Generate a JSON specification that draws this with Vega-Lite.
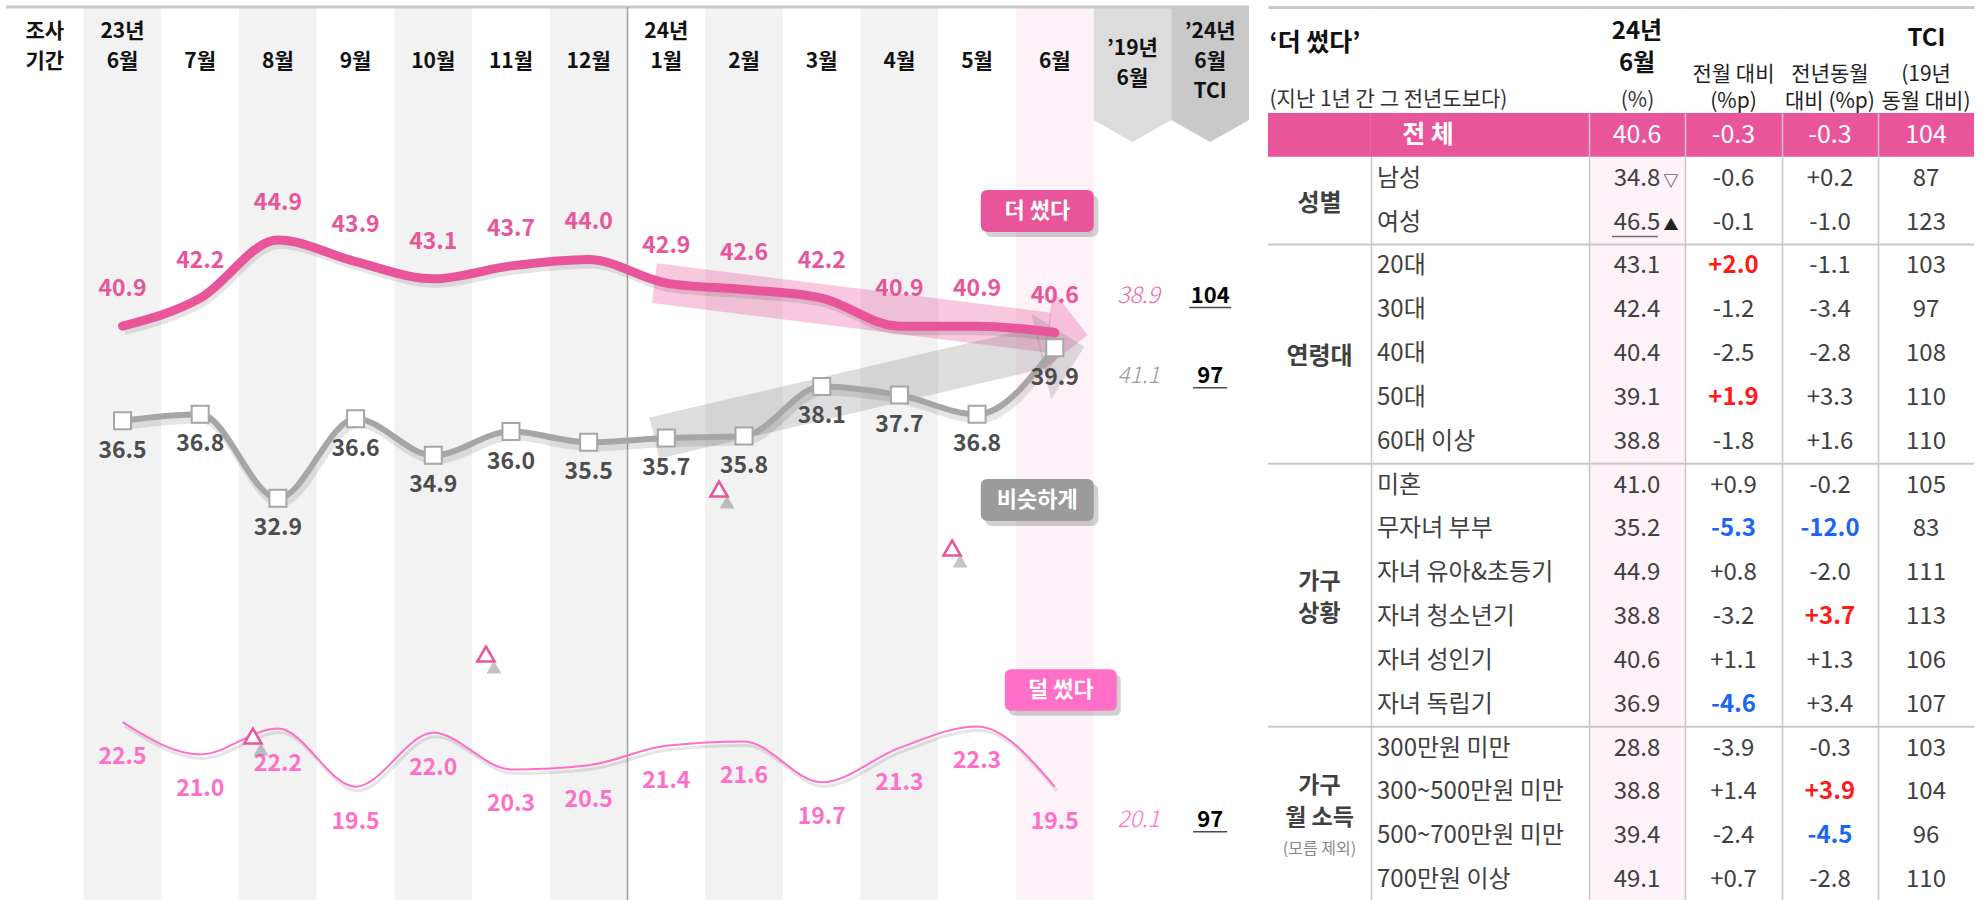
{
"$schema":"https://vega.github.io/schema/vega-lite/v6.json",
"background":"#ffffff",
"padding":{"left":4,"top":5,"right":0,"bottom":0},
"config":{"font":"Noto Sans CJK KR","view":{"stroke":null},"axis":{"labelFont":"Noto Sans CJK KR","titleFont":"Noto Sans CJK KR"},"text":{"font":"Noto Sans CJK KR"}},
"datasets":{
"cols":[{"c":"조사 기간"},{"c":"23년 6월"},{"c":"7월"},{"c":"8월"},{"c":"9월"},{"c":"10월"},{"c":"11월"},{"c":"12월"},{"c":"24년 1월"},{"c":"2월"},{"c":"3월"},{"c":"4월"},{"c":"5월"},{"c":"6월"},{"c":"’19년 6월"},{"c":"’24년 6월 TCI"}],
"trend":[
{"m":"23년 6월","s":"더 썼다","v":40.9},{"m":"7월","s":"더 썼다","v":42.2},{"m":"8월","s":"더 썼다","v":44.9},{"m":"9월","s":"더 썼다","v":43.9},{"m":"10월","s":"더 썼다","v":43.1},{"m":"11월","s":"더 썼다","v":43.7},{"m":"12월","s":"더 썼다","v":44.0},{"m":"24년 1월","s":"더 썼다","v":42.9},{"m":"2월","s":"더 썼다","v":42.6},{"m":"3월","s":"더 썼다","v":42.2},{"m":"4월","s":"더 썼다","v":40.9},{"m":"5월","s":"더 썼다","v":40.9},{"m":"6월","s":"더 썼다","v":40.6,"y19":38.9,"tci":104},
{"m":"23년 6월","s":"비슷하게","v":36.5},{"m":"7월","s":"비슷하게","v":36.8},{"m":"8월","s":"비슷하게","v":32.9},{"m":"9월","s":"비슷하게","v":36.6},{"m":"10월","s":"비슷하게","v":34.9},{"m":"11월","s":"비슷하게","v":36.0},{"m":"12월","s":"비슷하게","v":35.5},{"m":"24년 1월","s":"비슷하게","v":35.7},{"m":"2월","s":"비슷하게","v":35.8},{"m":"3월","s":"비슷하게","v":38.1},{"m":"4월","s":"비슷하게","v":37.7},{"m":"5월","s":"비슷하게","v":36.8},{"m":"6월","s":"비슷하게","v":39.9,"y19":41.1,"tci":97},
{"m":"23년 6월","s":"덜 썼다","v":22.5},{"m":"7월","s":"덜 썼다","v":21.0},{"m":"8월","s":"덜 썼다","v":22.2},{"m":"9월","s":"덜 썼다","v":19.5},{"m":"10월","s":"덜 썼다","v":22.0},{"m":"11월","s":"덜 썼다","v":20.3},{"m":"12월","s":"덜 썼다","v":20.5},{"m":"24년 1월","s":"덜 썼다","v":21.4},{"m":"2월","s":"덜 썼다","v":21.6},{"m":"3월","s":"덜 썼다","v":19.7},{"m":"4월","s":"덜 썼다","v":21.3},{"m":"5월","s":"덜 썼다","v":22.3},{"m":"6월","s":"덜 썼다","v":19.5,"y19":20.1,"tci":97}
],
"arrows":[{"s":"더 썼다","a":"24년 1월","b":"6월","v1":42.9,"v2":40.6},{"s":"비슷하게","a":"24년 1월","b":"6월","v1":35.7,"v2":39.9}],
"marks":[{"m":"8월","v":21.85},{"m":"11월","v":25.66},{"m":"2월","v":33.33},{"m":"5월","v":30.59}],
"legend":[{"s":"더 썼다","m":"6월","at":46.25},{"s":"비슷하게","m":"6월","at":32.82},{"s":"덜 썼다","m":"6월","at":23.99}],
"tbl":[
{"r":0,"grp":"전체","item":"전 체","v":"40.6","mom":"-0.3","yoy":"-0.3","tci":"104"},
{"r":1,"grp":"성별","item":"남성","v":"34.8","vm":"▽","mom":"-0.6","yoy":"+0.2","tci":"87"},
{"r":2,"grp":"성별","item":"여성","v":"46.5","vm":"▲","mom":"-0.1","yoy":"-1.0","tci":"123"},
{"r":3,"grp":"연령대","item":"20대","v":"43.1","mom":"+2.0","ms":"up","yoy":"-1.1","tci":"103"},
{"r":4,"grp":"연령대","item":"30대","v":"42.4","mom":"-1.2","yoy":"-3.4","tci":"97"},
{"r":5,"grp":"연령대","item":"40대","v":"40.4","mom":"-2.5","yoy":"-2.8","tci":"108"},
{"r":6,"grp":"연령대","item":"50대","v":"39.1","mom":"+1.9","ms":"up","yoy":"+3.3","tci":"110"},
{"r":7,"grp":"연령대","item":"60대 이상","v":"38.8","mom":"-1.8","yoy":"+1.6","tci":"110"},
{"r":8,"grp":"가구\n상황","item":"미혼","v":"41.0","mom":"+0.9","yoy":"-0.2","tci":"105"},
{"r":9,"grp":"가구\n상황","item":"무자녀 부부","v":"35.2","mom":"-5.3","ms":"down","yoy":"-12.0","ys":"down","tci":"83"},
{"r":10,"grp":"가구\n상황","item":"자녀 유아&초등기","v":"44.9","mom":"+0.8","yoy":"-2.0","tci":"111"},
{"r":11,"grp":"가구\n상황","item":"자녀 청소년기","v":"38.8","mom":"-3.2","yoy":"+3.7","ys":"up","tci":"113"},
{"r":12,"grp":"가구\n상황","item":"자녀 성인기","v":"40.6","mom":"+1.1","yoy":"+1.3","tci":"106"},
{"r":13,"grp":"가구\n상황","item":"자녀 독립기","v":"36.9","mom":"-4.6","ms":"down","yoy":"+3.4","tci":"107"},
{"r":14,"grp":"가구\n월 소득","note":"(모름 제외)","item":"300만원 미만","v":"28.8","mom":"-3.9","yoy":"-0.3","tci":"103"},
{"r":15,"grp":"가구\n월 소득","note":"(모름 제외)","item":"300~500만원 미만","v":"38.8","mom":"+1.4","yoy":"+3.9","ys":"up","tci":"104"},
{"r":16,"grp":"가구\n월 소득","note":"(모름 제외)","item":"500~700만원 미만","v":"39.4","mom":"-2.4","yoy":"-4.5","ys":"down","tci":"96"},
{"r":17,"grp":"가구\n월 소득","note":"(모름 제외)","item":"700만원 이상","v":"49.1","mom":"+0.7","yoy":"-2.8","tci":"110"}
]
},
"bounds":"flush",
"spacing":19,
"resolve":{"scale":{"x":"independent","y":"independent","color":"independent","fill":"independent"}},
"hconcat":[
{
"width":1243,"height":895,
"layer":[
{"data":{"name":"cols"},"mark":{"type":"rect"},"encoding":{
"x":{"field":"c","type":"nominal","sort":null,"scale":{"domain":["조사 기간","23년 6월","7월","8월","9월","10월","11월","12월","24년 1월","2월","3월","4월","5월","6월","’19년 6월","’24년 6월 TCI"],"paddingInner":0,"paddingOuter":0},
"axis":{"orient":"top","title":null,"domain":false,"ticks":false,"tickSize":0,"grid":false,"labelExpr":"split(datum.value, ' ')","labelFontSize":21,"labelFontWeight":"bold","labelColor":"#111111","labelLineHeight":30,"labelBaseline":"bottom","labelAlign":"center","labelAngle":0,"labelOverlap":false,"labelBound":false,"labelLimit":0,"zindex":2,
"labelPadding":{"condition":[{"test":"datum.value === '’19년 6월'","value":-51},{"test":"indexof(datum.value, ' ') > 0","value":-34}],"value":-64}}},
"fill":{"field":"c","type":"nominal","scale":{"domain":["조사 기간","23년 6월","7월","8월","9월","10월","11월","12월","24년 1월","2월","3월","4월","5월","6월","’19년 6월","’24년 6월 TCI"],"range":["#ffffff","#f2f2f2","#ffffff","#f2f2f2","#ffffff","#f2f2f2","#ffffff","#f2f2f2","#ffffff","#f2f2f2","#ffffff","#f2f2f2","#ffffff","#fdf2f8","#ffffff","#ffffff"]},"legend":null}}},
{"data":{"name":"cols"},"transform":[{"filter":{"field":"c","oneOf":["’19년 6월","’24년 6월 TCI"]}}],"mark":{"type":"point","shape":"M-1,-1.737L1,-1.737L1,1.171L0,1.737L-1,1.171Z","filled":true,"size":6037,"opacity":1,"strokeWidth":0},
"encoding":{"x":{"field":"c","type":"nominal"},"y":{"datum":52.59,"type":"quantitative","scale":{"domain":[14.14,55.73],"nice":false,"zero":false},"axis":null},
"color":{"field":"c","type":"nominal","scale":{"domain":["’19년 6월","’24년 6월 TCI","더 썼다","비슷하게","덜 썼다"],"range":["#dcdcdc","#c9c9c9","#e8559a","#9b9b9b","#ff6ec7"]},"legend":null}}},
{"data":{"values":[{}]},"mark":{"type":"rule","color":"#c8c8c8","strokeWidth":3,"x2Offset":19},"encoding":{"y":{"datum":55.73,"type":"quantitative"}}},
{"data":{"values":[{}]},"mark":{"type":"rule","color":"#a0a0a0","strokeWidth":1.5},"encoding":{"x":{"datum":"24년 1월","type":"nominal","bandPosition":0}}},
{"data":{"name":"arrows"},"transform":[{"filter":"datum.s === '더 썼다'"}],"mark":{"type":"rule","color":"#e8559a","opacity":0.32,"strokeWidth":40,"strokeCap":"butt","xOffset":-12,"x2Offset":-6},
"encoding":{"x":{"field":"a","type":"nominal"},"x2":{"field":"b"},"y":{"field":"v1","type":"quantitative"},"y2":{"field":"v2"}}},
{"data":{"name":"arrows"},"transform":[{"filter":"datum.s === '비슷하게'"}],"mark":{"type":"rule","color":"#8f8f8f","opacity":0.3,"strokeWidth":42,"strokeCap":"butt","xOffset":-12,"x2Offset":-14},
"encoding":{"x":{"field":"a","type":"nominal"},"x2":{"field":"b"},"y":{"field":"v1","type":"quantitative"},"y2":{"field":"v2"}}},
{"data":{"name":"arrows"},"transform":[{"filter":"datum.s === '더 썼다'"}],"mark":{"type":"point","shape":"M-0.5,-1L0.5,0L-0.5,1Z","filled":true,"color":"#e8559a","opacity":0.32,"size":6400,"angle":7,"xOffset":13,"strokeWidth":0},
"encoding":{"x":{"field":"b","type":"nominal"},"y":{"field":"v2","type":"quantitative"}}},
{"data":{"name":"arrows"},"transform":[{"filter":"datum.s === '비슷하게'"}],"mark":{"type":"point","shape":"M-0.5,-1L0.5,0L-0.5,1Z","filled":true,"color":"#8f8f8f","opacity":0.3,"size":7744,"angle":-13,"xOffset":8,"yOffset":4,"strokeWidth":0},
"encoding":{"x":{"field":"b","type":"nominal"},"y":{"field":"v2","type":"quantitative"}}},
{"data":{"name":"trend"},"transform":[{"filter":"datum.s !== '덜 썼다'"}],"mark":{"type":"line","interpolate":"monotone","color":"#000000","opacity":0.1,"strokeWidth":8,"xOffset":2,"yOffset":5},
"encoding":{"x":{"field":"m","type":"nominal"},"y":{"field":"v","type":"quantitative"},"detail":{"field":"s"},"order":{"value":null}}},
{"data":{"name":"trend"},"transform":[{"filter":"datum.s === '덜 썼다'"}],"mark":{"type":"line","interpolate":"monotone","color":"#000000","opacity":0.1,"strokeWidth":3,"xOffset":2,"yOffset":4},
"encoding":{"x":{"field":"m","type":"nominal"},"y":{"field":"v","type":"quantitative"},"order":{"value":null}}},
{"data":{"name":"trend"},"transform":[{"filter":"datum.s === '더 썼다'"}],"mark":{"type":"line","interpolate":"monotone","color":"#e8559a","strokeWidth":9,"strokeCap":"round"},
"encoding":{"x":{"field":"m","type":"nominal"},"y":{"field":"v","type":"quantitative"},"order":{"value":null}}},
{"data":{"name":"trend"},"transform":[{"filter":"datum.s === '비슷하게'"}],"mark":{"type":"line","interpolate":"monotone","color":"#a6a6a6","strokeWidth":6,"strokeCap":"round"},
"encoding":{"x":{"field":"m","type":"nominal"},"y":{"field":"v","type":"quantitative"},"order":{"value":null}}},
{"data":{"name":"trend"},"transform":[{"filter":"datum.s === '덜 썼다'"}],"mark":{"type":"line","interpolate":"monotone","color":"#ff6ec7","strokeWidth":2},
"encoding":{"x":{"field":"m","type":"nominal"},"y":{"field":"v","type":"quantitative"},"order":{"value":null}}},
{"data":{"name":"trend"},"transform":[{"filter":"datum.s === '비슷하게'"}],"mark":{"type":"point","shape":"square","size":289,"filled":true,"fill":"#ffffff","stroke":"#a6a6a6","strokeWidth":2,"opacity":1},
"encoding":{"x":{"field":"m","type":"nominal"},"y":{"field":"v","type":"quantitative"}}},
{"data":{"name":"trend"},"transform":[{"filter":"datum.s === '더 썼다'"}],"mark":{"type":"text","color":"#e8559a","fontSize":23,"fontWeight":"bold","dy":-37,"baseline":"middle"},
"encoding":{"x":{"field":"m","type":"nominal"},"y":{"field":"v","type":"quantitative"},"text":{"field":"v","type":"quantitative","format":".1f"}}},
{"data":{"name":"trend"},"transform":[{"filter":"datum.s === '비슷하게'"}],"mark":{"type":"text","color":"#4d4d4d","fontSize":23,"fontWeight":"bold","dy":30,"baseline":"middle"},
"encoding":{"x":{"field":"m","type":"nominal"},"y":{"field":"v","type":"quantitative"},"text":{"field":"v","type":"quantitative","format":".1f"}}},
{"data":{"name":"trend"},"transform":[{"filter":"datum.s === '덜 썼다'"}],"mark":{"type":"text","color":"#ff6ec7","fontSize":23,"fontWeight":"bold","dy":35,"baseline":"middle"},
"encoding":{"x":{"field":"m","type":"nominal"},"y":{"field":"v","type":"quantitative"},"text":{"field":"v","type":"quantitative","format":".1f"}}},
{"data":{"name":"trend"},"transform":[{"filter":"datum.s === '더 썼다' && datum.tci"}],"mark":{"type":"text","color":"#ee6aa7","fontSize":23,"fontStyle":"italic","fontWeight":300,"dy":-37,"dx":6,"baseline":"middle"},
"encoding":{"x":{"datum":"’19년 6월","type":"nominal"},"y":{"field":"v","type":"quantitative"},"text":{"field":"y19","type":"quantitative","format":".1f"}}},
{"data":{"name":"trend"},"transform":[{"filter":"datum.s === '비슷하게' && datum.tci"}],"mark":{"type":"text","color":"#9b9b9b","fontSize":23,"fontStyle":"italic","fontWeight":300,"dy":28,"dx":6,"baseline":"middle"},
"encoding":{"x":{"datum":"’19년 6월","type":"nominal"},"y":{"field":"v","type":"quantitative"},"text":{"field":"y19","type":"quantitative","format":".1f"}}},
{"data":{"name":"trend"},"transform":[{"filter":"datum.s === '덜 썼다' && datum.tci"}],"mark":{"type":"text","color":"#ff6ec7","fontSize":23,"fontStyle":"italic","fontWeight":300,"dy":33,"dx":6,"baseline":"middle"},
"encoding":{"x":{"datum":"’19년 6월","type":"nominal"},"y":{"field":"v","type":"quantitative"},"text":{"field":"y19","type":"quantitative","format":".1f"}}},
{"data":{"name":"trend"},"transform":[{"filter":"datum.s === '더 썼다' && datum.tci"}],"mark":{"type":"text","color":"#000000","fontSize":22,"fontWeight":"bold","dy":-37,"baseline":"middle"},
"encoding":{"x":{"datum":"’24년 6월 TCI","type":"nominal"},"y":{"field":"v","type":"quantitative"},"text":{"field":"tci","type":"quantitative","format":"d"}}},
{"data":{"name":"trend"},"transform":[{"filter":"datum.s === '비슷하게' && datum.tci"}],"mark":{"type":"text","color":"#000000","fontSize":22,"fontWeight":"bold","dy":28,"baseline":"middle"},
"encoding":{"x":{"datum":"’24년 6월 TCI","type":"nominal"},"y":{"field":"v","type":"quantitative"},"text":{"field":"tci","type":"quantitative","format":"d"}}},
{"data":{"name":"trend"},"transform":[{"filter":"datum.s === '덜 썼다' && datum.tci"}],"mark":{"type":"text","color":"#000000","fontSize":22,"fontWeight":"bold","dy":33,"baseline":"middle"},
"encoding":{"x":{"datum":"’24년 6월 TCI","type":"nominal"},"y":{"field":"v","type":"quantitative"},"text":{"field":"tci","type":"quantitative","format":"d"}}},
{"data":{"name":"trend"},"transform":[{"filter":"datum.s === '더 썼다' && datum.tci"}],"mark":{"type":"tick","color":"#000000","thickness":1.5,"yOffset":-25},
"encoding":{"x":{"datum":"’24년 6월 TCI","type":"nominal"},"y":{"field":"v","type":"quantitative"},"size":{"value":42}}},
{"data":{"name":"trend"},"transform":[{"filter":"datum.s === '비슷하게' && datum.tci"}],"mark":{"type":"tick","color":"#000000","thickness":1.5,"yOffset":40},
"encoding":{"x":{"datum":"’24년 6월 TCI","type":"nominal"},"y":{"field":"v","type":"quantitative"},"size":{"value":34}}},
{"data":{"name":"trend"},"transform":[{"filter":"datum.s === '덜 썼다' && datum.tci"}],"mark":{"type":"tick","color":"#000000","thickness":1.5,"yOffset":45},
"encoding":{"x":{"datum":"’24년 6월 TCI","type":"nominal"},"y":{"field":"v","type":"quantitative"},"size":{"value":34}}},
{"data":{"name":"marks"},"mark":{"type":"point","shape":"triangle-up","size":220,"filled":true,"color":"#555555","opacity":0.35,"xOffset":-17,"yOffset":13,"strokeWidth":0},
"encoding":{"x":{"field":"m","type":"nominal"},"y":{"field":"v","type":"quantitative"}}},
{"data":{"name":"marks"},"mark":{"type":"point","shape":"triangle-up","size":300,"filled":true,"fill":"#ffffff","stroke":"#e8559a","strokeWidth":2.5,"opacity":1,"xOffset":-25},
"encoding":{"x":{"field":"m","type":"nominal"},"y":{"field":"v","type":"quantitative"}}},
{"data":{"name":"legend"},"transform":[{"filter":"datum.s !== '덜 썼다'"}],"mark":{"type":"point","shape":"M-0.876,-0.372L0.876,-0.372Q1,-0.372 1,-0.248L1,0.248Q1,0.372 0.876,0.372L-0.876,0.372Q-1,0.372 -1,0.248L-1,-0.248Q-1,-0.372 -0.876,-0.372Z","filled":true,"color":"#000000","opacity":0.18,"size":12769,"xOffset":-13,"yOffset":5,"strokeWidth":0},
"encoding":{"x":{"field":"m","type":"nominal"},"y":{"field":"at","type":"quantitative"}}},
{"data":{"name":"legend"},"transform":[{"filter":"datum.s !== '덜 썼다'"}],"mark":{"type":"point","shape":"M-0.876,-0.372L0.876,-0.372Q1,-0.372 1,-0.248L1,0.248Q1,0.372 0.876,0.372L-0.876,0.372Q-1,0.372 -1,0.248L-1,-0.248Q-1,-0.372 -0.876,-0.372Z","filled":true,"opacity":1,"size":12769,"xOffset":-17.5,"strokeWidth":0},
"encoding":{"x":{"field":"m","type":"nominal"},"y":{"field":"at","type":"quantitative"},"color":{"field":"s","type":"nominal","scale":{"domain":["’19년 6월","’24년 6월 TCI","더 썼다","비슷하게","덜 썼다"],"range":["#dcdcdc","#c9c9c9","#e8559a","#9b9b9b","#ff6ec7"]},"legend":null}}},
{"data":{"name":"legend"},"transform":[{"filter":"datum.s !== '덜 썼다'"}],"mark":{"type":"text","color":"#ffffff","fontSize":22,"fontWeight":"bold","dx":-17.5,"baseline":"middle"},
"encoding":{"x":{"field":"m","type":"nominal"},"y":{"field":"at","type":"quantitative"},"text":{"field":"s"}}},
{"data":{"name":"legend"},"transform":[{"filter":"datum.s === '덜 썼다'"}],"mark":{"type":"point","shape":"M-0.876,-0.372L0.876,-0.372Q1,-0.372 1,-0.248L1,0.248Q1,0.372 0.876,0.372L-0.876,0.372Q-1,0.372 -1,0.248L-1,-0.248Q-1,-0.372 -0.876,-0.372Z","filled":true,"color":"#000000","opacity":0.18,"size":12544,"xOffset":10,"yOffset":5,"strokeWidth":0},
"encoding":{"x":{"field":"m","type":"nominal"},"y":{"field":"at","type":"quantitative"}}},
{"data":{"name":"legend"},"transform":[{"filter":"datum.s === '덜 썼다'"}],"mark":{"type":"point","shape":"M-0.876,-0.372L0.876,-0.372Q1,-0.372 1,-0.248L1,0.248Q1,0.372 0.876,0.372L-0.876,0.372Q-1,0.372 -1,0.248L-1,-0.248Q-1,-0.372 -0.876,-0.372Z","filled":true,"opacity":1,"size":12544,"xOffset":6,"strokeWidth":0},
"encoding":{"x":{"field":"m","type":"nominal"},"y":{"field":"at","type":"quantitative"},"color":{"field":"s","type":"nominal","scale":{"domain":["’19년 6월","’24년 6월 TCI","더 썼다","비슷하게","덜 썼다"],"range":["#dcdcdc","#c9c9c9","#e8559a","#9b9b9b","#ff6ec7"]},"legend":null}}},
{"data":{"name":"legend"},"transform":[{"filter":"datum.s === '덜 썼다'"}],"mark":{"type":"text","color":"#ffffff","fontSize":22,"fontWeight":"bold","dx":6,"baseline":"middle"},
"encoding":{"x":{"field":"m","type":"nominal"},"y":{"field":"at","type":"quantitative"},"text":{"field":"s"}}}
]
},
{
"bounds":"flush",
"spacing":0,
"resolve":{"scale":{"x":"independent","y":"independent","color":"independent","fill":"independent"}},
"hconcat":[
{"width":103,"height":895,"layer":[
{"data":{"name":"tbl"},"transform":[{"filter":"datum.r === 0"}],"mark":{"type":"rect","fill":"#e8559a","yOffset":-21.92,"y2Offset":21.92},
"encoding":{"x":{"datum":"‘더 썼다’","type":"nominal","scale":{"paddingInner":0,"paddingOuter":0},
"axis":{"orient":"top","title":"(지난 1년 간 그 전년도보다)","titleX":1,"titleY":92,"titleAlign":"left","titleBaseline":"middle","titleFontSize":21,"titleFontWeight":"normal","titleColor":"#333333","titleAngle":0,"domain":true,"domainColor":"#c8c8c8","domainWidth":3,"ticks":false,"tickSize":0,"grid":false,"labelAlign":"left","labelOffset":-50,"labelBaseline":"middle","labelPadding":-35,"labelFontSize":25,"labelFontWeight":"bold","labelColor":"#111111","labelLimit":0,"labelBound":false,"labelOverlap":false,"labelAngle":0,"zindex":1}},
"y":{"field":"r","type":"quantitative","scale":{"domain":[-0.5,17.5],"range":[106,895],"nice":false,"zero":false},"axis":null},"y2":{"field":"r"}}},
{"data":{"name":"tbl"},"transform":[{"filter":"datum.r > 0 && datum.r < 8"},{"aggregate":[{"op":"mean","field":"r","as":"rm"}],"groupby":["grp"]}],"mark":{"type":"text","fontSize":24,"fontWeight":"bold","color":"#404040","baseline":"middle","dy":3},
"encoding":{"x":{"datum":"‘더 썼다’","type":"nominal"},"y":{"field":"rm","type":"quantitative"},"text":{"field":"grp"}}},
{"data":{"name":"tbl"},"transform":[{"filter":"datum.r >= 8 && datum.r < 14"},{"aggregate":[{"op":"mean","field":"r","as":"rm"}],"groupby":["grp"]}],"mark":{"type":"text","lineBreak":"\n","fontSize":23,"fontWeight":"bold","color":"#404040","baseline":"middle","lineHeight":32,"dy":-13},
"encoding":{"x":{"datum":"‘더 썼다’","type":"nominal"},"y":{"field":"rm","type":"quantitative"},"text":{"field":"grp"}}},
{"data":{"name":"tbl"},"transform":[{"filter":"datum.r >= 14"},{"aggregate":[{"op":"mean","field":"r","as":"rm"}],"groupby":["grp","note"]}],"mark":{"type":"text","lineBreak":"\n","fontSize":23,"fontWeight":"bold","color":"#404040","baseline":"middle","lineHeight":32,"dy":-28},
"encoding":{"x":{"datum":"‘더 썼다’","type":"nominal"},"y":{"field":"rm","type":"quantitative"},"text":{"field":"grp"}}},
{"data":{"name":"tbl"},"transform":[{"filter":"datum.r >= 14"},{"aggregate":[{"op":"mean","field":"r","as":"rm"}],"groupby":["grp","note"]}],"mark":{"type":"text","fontSize":16,"color":"#888888","baseline":"middle","dy":35},
"encoding":{"x":{"datum":"‘더 썼다’","type":"nominal"},"y":{"field":"rm","type":"quantitative"},"text":{"field":"note"}}},
{"data":{"name":"tbl"},"transform":[{"filter":"datum.r > 0"},{"aggregate":[{"op":"max","field":"r","as":"rx"}],"groupby":["grp"]},{"filter":"datum.rx < 17"}],"mark":{"type":"rule","color":"#c8c8c8","strokeWidth":2,"yOffset":21.92},
"encoding":{"y":{"field":"rx","type":"quantitative"}}}
]},
{"width":218,"height":895,"layer":[
{"data":{"name":"tbl"},"transform":[{"filter":"datum.r === 0"}],"mark":{"type":"rect","fill":"#e8559a","yOffset":-21.92,"y2Offset":21.92},
"encoding":{"x":{"datum":"item","type":"nominal","scale":{"paddingInner":0,"paddingOuter":0},"axis":{"orient":"top","title":null,"labels":false,"domain":true,"domainColor":"#c8c8c8","domainWidth":3,"ticks":false,"grid":false}},
"y":{"field":"r","type":"quantitative","scale":{"domain":[-0.5,17.5],"range":[106,895],"nice":false,"zero":false},"axis":{"orient":"left","domain":true,"domainColor":"#c8c8c8","domainWidth":1.5,"labels":false,"ticks":false,"grid":false,"title":null,"zindex":0}},"y2":{"field":"r"}}},
{"data":{"name":"tbl"},"transform":[{"filter":"datum.r === 0"}],"mark":{"type":"text","color":"#ffffff","fontSize":25,"fontWeight":"bold","dx":-52,"baseline":"middle"},
"encoding":{"x":{"datum":"item","type":"nominal"},"y":{"field":"r","type":"quantitative"},"text":{"field":"item"}}},
{"data":{"name":"tbl"},"transform":[{"filter":"datum.r > 0"}],"mark":{"type":"text","color":"#404040","fontSize":24,"align":"left","dx":-103,"baseline":"middle"},
"encoding":{"x":{"datum":"item","type":"nominal"},"y":{"field":"r","type":"quantitative"},"text":{"field":"item"}}},
{"data":{"name":"tbl"},"transform":[{"filter":"datum.r > 0"},{"aggregate":[{"op":"max","field":"r","as":"rx"}],"groupby":["grp"]},{"filter":"datum.rx < 17"}],"mark":{"type":"rule","color":"#c8c8c8","strokeWidth":2,"yOffset":21.92},
"encoding":{"y":{"field":"rx","type":"quantitative"}}}
]},
{"width":96,"height":895,"layer":[
{"data":{"name":"tbl"},"transform":[{"filter":"datum.r > 0"},{"aggregate":[{"op":"min","field":"r","as":"r0"},{"op":"max","field":"r","as":"r1"}]}],"mark":{"type":"rect","fill":"#fdf2f8","yOffset":-21.92,"y2Offset":21.92},
"encoding":{"x":{"datum":"24년|6월","type":"nominal","scale":{"paddingInner":0,"paddingOuter":0},
"axis":{"orient":"top","title":"(%)","titleY":93,"titleBaseline":"middle","titleFontSize":21,"titleFontWeight":"normal","titleColor":"#333333","titleAngle":0,"domain":true,"domainColor":"#c8c8c8","domainWidth":3,"ticks":false,"tickSize":0,"grid":false,"labelExpr":"split(datum.value, '|')","labelFontSize":24,"labelFontWeight":"bold","labelColor":"#111111","labelLineHeight":32,"labelBaseline":"bottom","labelPadding":-36,"labelLimit":0,"labelBound":false,"labelOverlap":false,"labelAngle":0,"zindex":1}},
"y":{"field":"r0","type":"quantitative","scale":{"domain":[-0.5,17.5],"range":[106,895],"nice":false,"zero":false},"axis":{"orient":"left","domain":true,"domainColor":"#c8c8c8","domainWidth":1.5,"labels":false,"ticks":false,"grid":false,"title":null,"zindex":1}},"y2":{"field":"r1"}}},
{"data":{"name":"tbl"},"transform":[{"filter":"datum.r === 0"}],"mark":{"type":"rect","fill":"#e8559a","yOffset":-21.92,"y2Offset":21.92},
"encoding":{"x":{"datum":"24년|6월","type":"nominal"},"y":{"field":"r","type":"quantitative"},"y2":{"field":"r"}}},
{"data":{"name":"tbl"},"transform":[{"filter":"datum.r === 0"}],"mark":{"type":"text","color":"#ffffff","fontSize":25,"baseline":"middle"},
"encoding":{"x":{"datum":"24년|6월","type":"nominal"},"y":{"field":"r","type":"quantitative"},"text":{"field":"v"}}},
{"data":{"name":"tbl"},"transform":[{"filter":"datum.r > 0"}],"mark":{"type":"text","color":"#404040","fontSize":24,"baseline":"middle"},
"encoding":{"x":{"datum":"24년|6월","type":"nominal"},"y":{"field":"r","type":"quantitative"},"text":{"field":"v"}}},
{"data":{"name":"tbl"},"transform":[{"filter":"datum.vm"}],"mark":{"type":"text","color":"#222222","fontSize":15,"dx":34,"dy":2,"baseline":"middle"},
"encoding":{"x":{"datum":"24년|6월","type":"nominal"},"y":{"field":"r","type":"quantitative"},"text":{"field":"vm"}}},
{"data":{"name":"tbl"},"transform":[{"filter":"datum.vm === '▲'"}],"mark":{"type":"tick","color":"#333333","thickness":1.5,"yOffset":14,"xOffset":-2},
"encoding":{"x":{"datum":"24년|6월","type":"nominal"},"y":{"field":"r","type":"quantitative"},"size":{"value":46}}},
{"data":{"name":"tbl"},"transform":[{"filter":"datum.r > 0"},{"aggregate":[{"op":"max","field":"r","as":"rx"}],"groupby":["grp"]},{"filter":"datum.rx < 17"}],"mark":{"type":"rule","color":"#c8c8c8","strokeWidth":2,"yOffset":21.92},
"encoding":{"y":{"field":"rx","type":"quantitative"}}}
]},
{"width":97,"height":895,"layer":[
{"data":{"name":"tbl"},"transform":[{"filter":"datum.r === 0"}],"mark":{"type":"rect","fill":"#e8559a","yOffset":-21.92,"y2Offset":21.92},
"encoding":{"x":{"datum":"전월 대비|(%p)","type":"nominal","scale":{"paddingInner":0,"paddingOuter":0},
"axis":{"orient":"top","title":null,"domain":true,"domainColor":"#c8c8c8","domainWidth":3,"ticks":false,"tickSize":0,"grid":false,"labelExpr":"split(datum.value, '|')","labelFontSize":21,"labelFontWeight":"normal","labelColor":"#222222","labelLineHeight":27,"labelBaseline":"bottom","labelPadding":-77,"labelLimit":0,"labelBound":false,"labelOverlap":false,"labelAngle":0,"zindex":1}},
"y":{"field":"r","type":"quantitative","scale":{"domain":[-0.5,17.5],"range":[106,895],"nice":false,"zero":false},"axis":{"orient":"left","domain":true,"domainColor":"#c8c8c8","domainWidth":1.5,"labels":false,"ticks":false,"grid":false,"title":null,"zindex":1}},"y2":{"field":"r"}}},
{"data":{"name":"tbl"},"transform":[{"filter":"datum.r === 0"}],"mark":{"type":"text","color":"#ffffff","fontSize":25,"baseline":"middle"},
"encoding":{"x":{"datum":"전월 대비|(%p)","type":"nominal"},"y":{"field":"r","type":"quantitative"},"text":{"field":"mom"}}},
{"data":{"name":"tbl"},"transform":[{"filter":"datum.r > 0 && !datum.ms"}],"mark":{"type":"text","color":"#404040","fontSize":24,"baseline":"middle"},
"encoding":{"x":{"datum":"전월 대비|(%p)","type":"nominal"},"y":{"field":"r","type":"quantitative"},"text":{"field":"mom"}}},
{"data":{"name":"tbl"},"transform":[{"filter":"datum.r > 0 && datum.ms"}],"mark":{"type":"text","fontSize":24,"fontWeight":"bold","baseline":"middle"},
"encoding":{"x":{"datum":"전월 대비|(%p)","type":"nominal"},"y":{"field":"r","type":"quantitative"},"text":{"field":"mom"},"color":{"field":"ms","type":"nominal","scale":{"domain":["up","down"],"range":["#ff1a1a","#1a66f0"]},"legend":null}}},
{"data":{"name":"tbl"},"transform":[{"filter":"datum.r > 0"},{"aggregate":[{"op":"max","field":"r","as":"rx"}],"groupby":["grp"]},{"filter":"datum.rx < 17"}],"mark":{"type":"rule","color":"#c8c8c8","strokeWidth":2,"yOffset":21.92},
"encoding":{"y":{"field":"rx","type":"quantitative"}}}
]},
{"width":96,"height":895,"layer":[
{"data":{"name":"tbl"},"transform":[{"filter":"datum.r === 0"}],"mark":{"type":"rect","fill":"#e8559a","yOffset":-21.92,"y2Offset":21.92},
"encoding":{"x":{"datum":"전년동월|대비 (%p)","type":"nominal","scale":{"paddingInner":0,"paddingOuter":0},
"axis":{"orient":"top","title":null,"domain":true,"domainColor":"#c8c8c8","domainWidth":3,"ticks":false,"tickSize":0,"grid":false,"labelExpr":"split(datum.value, '|')","labelFontSize":21,"labelFontWeight":"normal","labelColor":"#222222","labelLineHeight":27,"labelBaseline":"bottom","labelPadding":-77,"labelLimit":0,"labelBound":false,"labelOverlap":false,"labelAngle":0,"zindex":1}},
"y":{"field":"r","type":"quantitative","scale":{"domain":[-0.5,17.5],"range":[106,895],"nice":false,"zero":false},"axis":{"orient":"left","domain":true,"domainColor":"#c8c8c8","domainWidth":1.5,"labels":false,"ticks":false,"grid":false,"title":null,"zindex":1}},"y2":{"field":"r"}}},
{"data":{"name":"tbl"},"transform":[{"filter":"datum.r === 0"}],"mark":{"type":"text","color":"#ffffff","fontSize":25,"baseline":"middle"},
"encoding":{"x":{"datum":"전년동월|대비 (%p)","type":"nominal"},"y":{"field":"r","type":"quantitative"},"text":{"field":"yoy"}}},
{"data":{"name":"tbl"},"transform":[{"filter":"datum.r > 0 && !datum.ys"}],"mark":{"type":"text","color":"#404040","fontSize":24,"baseline":"middle"},
"encoding":{"x":{"datum":"전년동월|대비 (%p)","type":"nominal"},"y":{"field":"r","type":"quantitative"},"text":{"field":"yoy"}}},
{"data":{"name":"tbl"},"transform":[{"filter":"datum.r > 0 && datum.ys"}],"mark":{"type":"text","fontSize":24,"fontWeight":"bold","baseline":"middle"},
"encoding":{"x":{"datum":"전년동월|대비 (%p)","type":"nominal"},"y":{"field":"r","type":"quantitative"},"text":{"field":"yoy"},"color":{"field":"ys","type":"nominal","scale":{"domain":["up","down"],"range":["#ff1a1a","#1a66f0"]},"legend":null}}},
{"data":{"name":"tbl"},"transform":[{"filter":"datum.r > 0"},{"aggregate":[{"op":"max","field":"r","as":"rx"}],"groupby":["grp"]},{"filter":"datum.rx < 17"}],"mark":{"type":"rule","color":"#c8c8c8","strokeWidth":2,"yOffset":21.92},
"encoding":{"y":{"field":"rx","type":"quantitative"}}}
]},
{"width":96,"height":895,"layer":[
{"data":{"name":"tbl"},"transform":[{"filter":"datum.r === 0"}],"mark":{"type":"rect","fill":"#e8559a","yOffset":-21.92,"y2Offset":21.92},
"encoding":{"x":{"datum":"(19년|동월 대비)","type":"nominal","scale":{"paddingInner":0,"paddingOuter":0},
"axis":{"orient":"top","title":"TCI","titleY":31,"titleBaseline":"middle","titleFontSize":24,"titleFontWeight":"bold","titleColor":"#111111","titleAngle":0,"domain":true,"domainColor":"#c8c8c8","domainWidth":3,"ticks":false,"tickSize":0,"grid":false,"labelExpr":"split(datum.value, '|')","labelFontSize":21,"labelFontWeight":"normal","labelColor":"#222222","labelLineHeight":27,"labelBaseline":"bottom","labelPadding":-77,"labelLimit":0,"labelBound":false,"labelOverlap":false,"labelAngle":0,"zindex":1}},
"y":{"field":"r","type":"quantitative","scale":{"domain":[-0.5,17.5],"range":[106,895],"nice":false,"zero":false},"axis":{"orient":"left","domain":true,"domainColor":"#c8c8c8","domainWidth":1.5,"labels":false,"ticks":false,"grid":false,"title":null,"zindex":1}},"y2":{"field":"r"}}},
{"data":{"name":"tbl"},"transform":[{"filter":"datum.r === 0"}],"mark":{"type":"text","color":"#ffffff","fontSize":25,"baseline":"middle"},
"encoding":{"x":{"datum":"(19년|동월 대비)","type":"nominal"},"y":{"field":"r","type":"quantitative"},"text":{"field":"tci"}}},
{"data":{"name":"tbl"},"transform":[{"filter":"datum.r > 0"}],"mark":{"type":"text","color":"#404040","fontSize":24,"baseline":"middle"},
"encoding":{"x":{"datum":"(19년|동월 대비)","type":"nominal"},"y":{"field":"r","type":"quantitative"},"text":{"field":"tci"}}},
{"data":{"name":"tbl"},"transform":[{"filter":"datum.r > 0"},{"aggregate":[{"op":"max","field":"r","as":"rx"}],"groupby":["grp"]},{"filter":"datum.rx < 17"}],"mark":{"type":"rule","color":"#c8c8c8","strokeWidth":2,"yOffset":21.92},
"encoding":{"y":{"field":"rx","type":"quantitative"}}}
]}
]
}
]
}
